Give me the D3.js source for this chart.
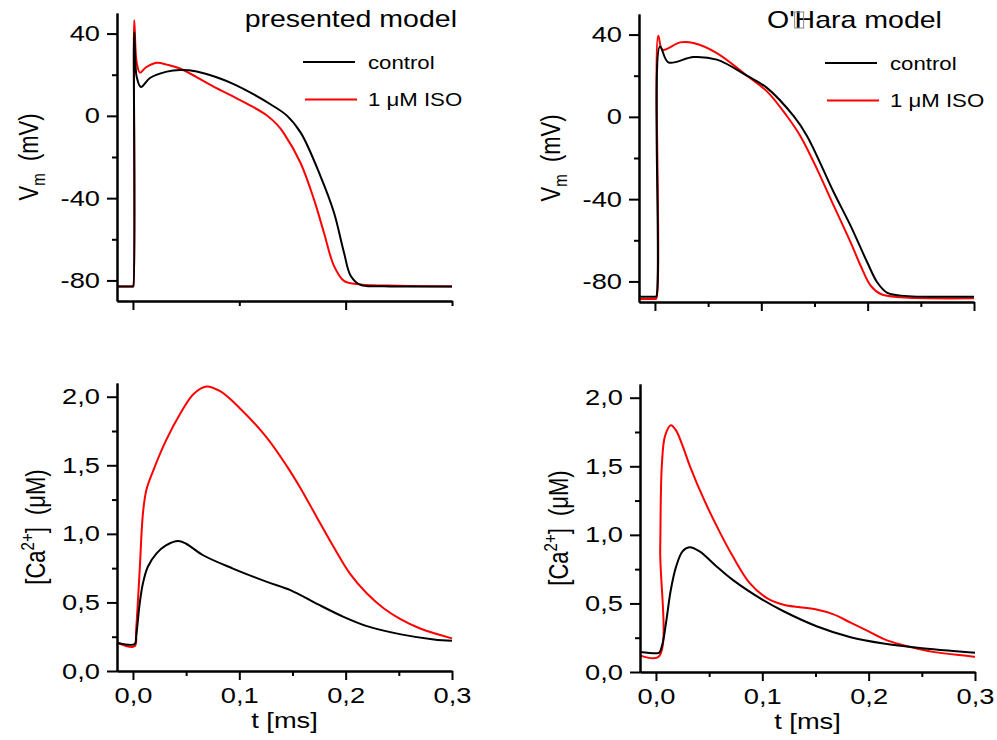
<!DOCTYPE html>
<html>
<head>
<meta charset="utf-8">
<script src="https://cdn.jsdelivr.net/npm/d3@7"></script>
<style>
body { margin: 0; background: #fff; }
svg text { font-family: "Liberation Sans", Arial, sans-serif; fill: #000; }
</style>
</head>
<body>
<svg id="chart" width="997" height="740"></svg>
<script>
// series names + colours (legend)
const seriesNames = ["control", "1 \u03bcM ISO"];
const seriesColors = ["#000000", "#ff0000"];

// time axis (same for all four panels)
const tDomain = [-0.015, 0.3];
const tMajor = [0, 0.1, 0.2, 0.3];
const tMinor = [0.05, 0.15, 0.25];

// membrane potential axis
const vmDomain = [-90, 50];
const vmMajor = [-80, -40, 0, 40];
const vmMinor = [-60, -20, 20];

// calcium axis
const caDomain = [0, 2.1];
const caMajor = [0, 0.5, 1.0, 1.5, 2.0];
const caMinor = [0.25, 0.75, 1.25, 1.75];

// [t, Vm] presented model
const apPresentedControl = [[-0.015,-82.9],[0,-82.9],[0.0003,-82.9],[0.0012,40.7],[0.0035,19],[0.0075,14],[0.016,18.4],
  [0.0318,21.5],[0.0443,22.3],[0.06,21.6],[0.08,18.5],[0.0947,15.4],[0.1136,10.4],[0.13,5.4],[0.145,0],[0.158,-8.4],
  [0.1764,-29.4],[0.189,-47],[0.1984,-66.4],[0.2047,-77.7],[0.214,-82.2],[0.236,-82.8],[0.3,-82.9]];
const apPresentedIso = [[-0.015,-82.9],[0,-82.9],[0.0003,-82.9],[0.0012,46.5],[0.0035,26],[0.0066,21],[0.012,23.5],
  [0.0223,25.8],[0.032,24.9],[0.0443,23],[0.0758,14.2],[0.095,9.2],[0.112,4.6],[0.126,0.2],[0.136,-4.5],[0.1418,-8.4],
  [0.1576,-22.9],[0.1702,-40.6],[0.1796,-56.8],[0.189,-72.9],[0.1984,-80.2],[0.214,-82],[0.25,-82.6],[0.3,-82.9]];

// [t, Vm] O'Hara model
const apOHaraControl = [[-0.015,-87.4],[0,-87.4],[0.0012,-87.4],[0.0047,34.2],[0.0126,26.5],[0.0362,29.1],[0.0582,27.8],
  [0.0865,20],[0.1053,14.1],[0.1305,0.3],[0.1431,-9.4],[0.1682,-36.8],[0.184,-53],[0.1997,-70.8],[0.2091,-80.5],
  [0.2186,-85.6],[0.2311,-86.9],[0.3,-87.4]];
const apOHaraIso = [[-0.015,-88.5],[0,-88.5],[0.0012,-88.5],[0.0031,39.4],[0.0072,32.6],[0.0236,36.2],[0.0362,35.9],
  [0.0582,31],[0.0865,20],[0.1053,12.4],[0.1242,0.3],[0.1368,-9.4],[0.1525,-25.5],[0.1682,-43.3],[0.184,-61],
  [0.1934,-72.4],[0.2028,-82],[0.2123,-86.1],[0.2311,-87.7],[0.3,-88.2]];

// [t, Ca] presented model
const caPresentedControl = [[-0.015,0.206],[0.0016,0.196],[0.003,0.25],[0.0063,0.49],[0.0094,0.64],[0.014,0.76],
  [0.022,0.856],[0.031,0.916],[0.0425,0.948],[0.05,0.928],[0.066,0.844],[0.094,0.747],[0.126,0.65],[0.148,0.59],
  [0.173,0.49],[0.198,0.395],[0.22,0.327],[0.252,0.267],[0.283,0.23],[0.3,0.22]];
const caPresentedIso = [[-0.015,0.206],[0.0016,0.18],[0.003,0.30],[0.0063,0.73],[0.0094,1.15],[0.0126,1.32],[0.019,1.46],
  [0.031,1.68],[0.044,1.87],[0.057,2.02],[0.069,2.075],[0.082,2.04],[0.1,1.92],[0.126,1.70],[0.145,1.49],[0.157,1.34],
  [0.173,1.12],[0.189,0.90],[0.204,0.71],[0.22,0.565],[0.236,0.456],[0.252,0.376],[0.27,0.31],[0.3,0.238]];

// [t, Ca] O'Hara model
const caOHaraControl = [[-0.015,0.145],[0,0.136],[0.003,0.14],[0.0063,0.21],[0.0095,0.36],[0.014,0.60],[0.019,0.77],
  [0.025,0.88],[0.0315,0.91],[0.041,0.88],[0.057,0.77],[0.0725,0.67],[0.1,0.528],[0.12,0.443],[0.151,0.334],
  [0.183,0.254],[0.214,0.208],[0.246,0.177],[0.3,0.14]];
const caOHaraIso = [[-0.015,0.121],[0.0025,0.111],[0.004,0.9],[0.0055,1.5],[0.0085,1.72],[0.014,1.80],[0.019,1.76],
  [0.025,1.65],[0.032,1.50],[0.045,1.26],[0.06,1.02],[0.0725,0.84],[0.088,0.65],[0.104,0.54],[0.12,0.49],
  [0.151,0.455],[0.167,0.42],[0.183,0.36],[0.199,0.30],[0.214,0.242],[0.23,0.20],[0.246,0.17],[0.262,0.145],[0.3,0.111]];

const PW = 335;
const PH = 288;
const SX = 1.24;   // the figure's text is stretched horizontally

const svg = d3.select("#chart");
const comma = d3.formatLocale({decimal: ",", thousands: ".", grouping: [3], currency: ["", ""], minus: "-"});
const fmtCa = comma.format(".1f");
const fmtVm = comma.format("d");

const panels = [
    {left: 117, top: 13, kind: "vm", data: [apPresentedControl, apPresentedIso], xLabels: false,
     xMajor: [0, 0.2], xMinor: [0.1, 0.3], title: "presented model", legend: [303, 62]},
    {left: 639, top: 14, kind: "vm", data: [apOHaraControl, apOHaraIso], xLabels: false,
     xMajor: tMajor, xMinor: tMinor, title: "ohara", legend: [825, 63]},
    {left: 117, top: 383, kind: "ca", data: [caPresentedControl, caPresentedIso], xLabels: true,
     xMajor: tMajor, xMinor: tMinor},
    {left: 640, top: 384, kind: "ca", data: [caOHaraControl, caOHaraIso], xLabels: true,
     xMajor: tMajor, xMinor: tMinor}
];

function styleAxis(a) {
    a.attr("font-size", null).attr("font-family", null);
    a.select(".domain").attr("stroke", "#000").attr("stroke-width", 2);
    a.selectAll(".tick line").attr("stroke", "#000").attr("stroke-width", 2);
}

function drawPanel(p) {
    const g = svg.append("g");
    const isVm = p.kind === "vm";
    const x = d3.scaleLinear().domain(tDomain).range([p.left, p.left + PW]);
    const y = d3.scaleLinear().domain(isVm ? vmDomain : caDomain).range([p.top + PH, p.top]);

    const line = d3.line()
        .x(function (d) { return x(d[0]); })
        .y(function (d) { return y(d[1]); })
        .curve(d3.curveCatmullRom.alpha(0.5));

    // red underneath, black on top
    [1, 0].forEach(function (i) {
        g.append("path")
            .datum(p.data[i])
            .attr("fill", "none")
            .attr("stroke", seriesColors[i])
            .attr("stroke-width", 2)
            .attr("stroke-linejoin", "round")
            .attr("d", line);
    });

    // y axis
    const yMin = g.append("g").attr("transform", `translate(${p.left},0)`)
        .call(d3.axisLeft(y).tickValues(isVm ? vmMinor : caMinor).tickSize(5).tickSizeOuter(0).tickFormat(""));
    styleAxis(yMin);
    const yMaj = g.append("g").attr("transform", `translate(${p.left},0)`)
        .call(d3.axisLeft(y).tickValues(isVm ? vmMajor : caMajor).tickSize(10).tickPadding(7).tickSizeOuter(0)
            .tickFormat(isVm ? fmtVm : fmtCa));
    styleAxis(yMaj);
    yMaj.selectAll("text")
        .attr("font-size", 22)
        .attr("x", -17 / SX)
        .attr("transform", `scale(${SX},1)`);

    // x axis
    const xMin = g.append("g").attr("transform", `translate(0,${p.top + PH})`)
        .call(d3.axisBottom(x).tickValues(p.xMinor).tickSize(5).tickSizeOuter(0).tickFormat(""));
    styleAxis(xMin);
    const xMaj = g.append("g").attr("transform", `translate(0,${p.top + PH})`)
        .call(d3.axisBottom(x).tickValues(p.xMajor).tickSize(9).tickPadding(7).tickSizeOuter(0)
            .tickFormat(p.xLabels ? fmtCa : ""));
    styleAxis(xMaj);
    xMaj.selectAll("text")
        .attr("font-size", 22)
        .attr("transform", `scale(${SX},1)`);

    // y title
    const cy = p.top + PH / 2;
    if (isVm) {
        const t = g.append("text")
            .attr("transform", `translate(${p.left - 79},${cy}) scale(${SX},1) rotate(-90)`)
            .attr("text-anchor", "middle")
            .attr("font-size", 22);
        t.append("tspan").text("V");
        t.append("tspan").attr("font-size", 15).attr("dy", 6).text("m");
        t.append("tspan").attr("dy", -6).text("\u00a0\u00a0(mV)");
    } else {
        const t = g.append("text")
            .attr("transform", `translate(${p.left - 72},${cy}) scale(${SX},1) rotate(-90)`)
            .attr("text-anchor", "middle")
            .attr("font-size", 22);
        t.append("tspan").text("[Ca");
        t.append("tspan").attr("font-size", 15).attr("dy", -9).text("2+");
        t.append("tspan").attr("dy", 9).text("]\u00a0\u00a0(\u03bcM)");
    }

    // x title
    if (p.xLabels) {
        g.append("text")
            .attr("transform", `translate(${p.left + PW / 2},${p.top + PH + 57}) scale(${SX},1)`)
            .attr("text-anchor", "middle")
            .attr("font-size", 22)
            .text("t [ms]");
    }

    // panel title
    if (p.title === "presented model") {
        g.append("text")
            .attr("transform", `translate(${p.left + 340},27) scale(${SX},1)`)
            .attr("text-anchor", "end")
            .attr("font-size", 23)
            .text(p.title);
    } else if (p.title === "ohara") {
        const tx = p.left + 128;
        const t = g.append("text")
            .attr("transform", `translate(${tx},28) scale(${SX},1)`)
            .attr("font-size", 23)
            .text("O'Hara model");
        // the source figure shows a missing-glyph box over the "H"
        const w = t.node().getSubStringLength(0, 2) * SX;
        g.append("rect")
            .attr("x", tx + w).attr("y", 12)
            .attr("width", 9).attr("height", 16)
            .attr("fill", "none")
            .attr("stroke", "#8a8a8a")
            .attr("stroke-width", 1);
    }

    // legend
    if (p.legend) {
        const lg = g.append("g").attr("transform", `translate(${p.legend[0]},${p.legend[1]})`);
        seriesNames.forEach(function (name, i) {
            lg.append("line")
                .attr("x1", i * 2).attr("x2", 52 + i * 2)
                .attr("y1", i * 37.5).attr("y2", i * 37.5)
                .attr("stroke", seriesColors[i])
                .attr("stroke-width", 2);
            lg.append("text")
                .attr("transform", `translate(65,${i * 37.5 + 6.5}) scale(1.2,1)`)
                .attr("font-size", 18.5)
                .text(name);
        });
    }
}

panels.forEach(drawPanel);
</script>
</body>
</html>
